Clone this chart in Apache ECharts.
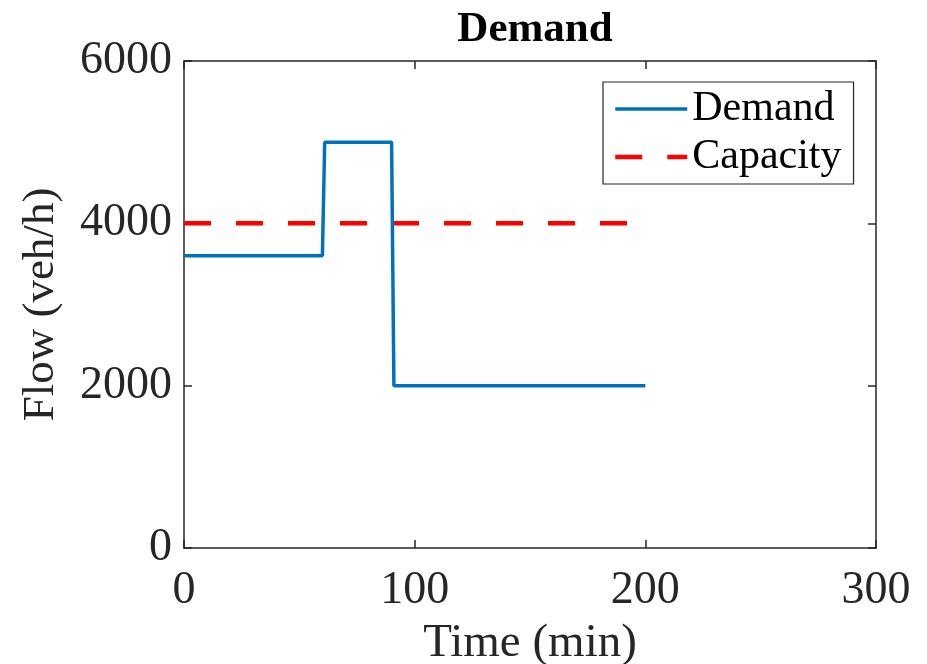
<!DOCTYPE html>
<html>
<head>
<meta charset="utf-8">
<script src="https://cdn.jsdelivr.net/npm/echarts@6/dist/echarts.min.js"></script>
<style>
  html, body { margin: 0; padding: 0; background: #fff; }
  #chart { width: 927px; height: 664px; }
</style>
</head>
<body>
<div id="chart"></div>
<script>
// Demand profile (step) and constant capacity, time in minutes, flow in veh/h
const demandTime = [0, 60, 61, 90, 91, 200];
const demandFlow = [3600, 3600, 5000, 5000, 2000, 2000];
const capacityTime = [0, 200];
const capacityFlow = [4000, 4000];

const xTicks = { min: 0, max: 300, interval: 100 };
const yTicks = { min: 0, max: 6000, interval: 2000 };

const serif = 'Liberation Serif';
const axisColor = '#262626';
const demandColor = '#0072BD';
const capacityColor = '#FF0000';

function pairs(xs, ys) {
  return xs.map((x, i) => [x, ys[i]]);
}

const chart = echarts.init(document.getElementById('chart'), null, { renderer: 'canvas' });

const tickLabel = {
  fontFamily: serif, fontSize: 46, color: axisColor,
  formatter: (v) => String(v)
};

// Mirrored axis on the opposite side: only the line and inward ticks
function mirrorAxis(position, ticks) {
  return {
    type: 'value', position, ...ticks,
    axisLine: { show: true, onZero: false, lineStyle: { color: axisColor, width: 1.5 } },
    axisTick: { show: true, inside: true, length: 8, lineStyle: { color: axisColor, width: 1.5 } },
    axisLabel: { show: false },
    splitLine: { show: false }
  };
}

chart.setOption({
  backgroundColor: '#fff',
  animation: false,
  title: {
    text: 'Demand',
    left: 530,
    textAlign: 'center',
    top: 3,
    textStyle: { fontFamily: serif, fontSize: 43, fontWeight: 'bold', color: '#000' }
  },
  legend: {
    orient: 'vertical',
    left: 603,
    top: 82,
    padding: [4, 12, 4, 10],
    itemGap: 2,
    itemWidth: 72,
    itemHeight: 20,
    backgroundColor: '#fff',
    borderColor: axisColor,
    borderWidth: 1.2,
    itemStyle: { opacity: 0 },
    textStyle: { fontFamily: serif, fontSize: 42, lineHeight: 46, color: '#000' },
    data: [
      { name: 'Demand', lineStyle: { width: 3.5, color: demandColor } },
      { name: 'Capacity', lineStyle: { width: 4.5, color: capacityColor } }
    ]
  },
  grid: {
    left: 184, right: 51, top: 61, bottom: 116,
    containLabel: false,
    outerBoundsMode: 'none'
  },
  xAxis: [
    {
      type: 'value', position: 'bottom', ...xTicks,
      name: 'Time (min)', nameLocation: 'middle', nameGap: 72,
      nameTextStyle: { fontFamily: serif, fontSize: 47, color: axisColor },
      axisLine: { show: true, onZero: false, lineStyle: { color: axisColor, width: 1.5 } },
      axisTick: { show: true, inside: true, length: 8, lineStyle: { color: axisColor, width: 1.5 } },
      axisLabel: { ...tickLabel, margin: 20 },
      splitLine: { show: false }
    },
    mirrorAxis('top', xTicks)
  ],
  yAxis: [
    {
      type: 'value', position: 'left', ...yTicks,
      name: 'Flow (veh/h)', nameLocation: 'middle', nameGap: 120,
      nameTextStyle: { fontFamily: serif, fontSize: 45, color: axisColor },
      axisLine: { show: true, onZero: false, lineStyle: { color: axisColor, width: 1.5 } },
      axisTick: { show: true, inside: true, length: 8, lineStyle: { color: axisColor, width: 1.5 } },
      axisLabel: { ...tickLabel, margin: 12 },
      splitLine: { show: false }
    },
    mirrorAxis('right', yTicks)
  ],
  series: [
    {
      name: 'Demand',
      type: 'line',
      xAxisIndex: 0, yAxisIndex: 0,
      data: pairs(demandTime, demandFlow),
      symbol: 'none',
      color: demandColor,
      lineStyle: { color: demandColor, width: 3.5 },
      z: 3
    },
    {
      name: 'Capacity',
      type: 'line',
      xAxisIndex: 0, yAxisIndex: 0,
      data: pairs(capacityTime, capacityFlow),
      symbol: 'none',
      color: capacityColor,
      lineStyle: { color: capacityColor, width: 4.5, type: [27, 25] },
      z: 2
    }
  ]
});
</script>
</body>
</html>
